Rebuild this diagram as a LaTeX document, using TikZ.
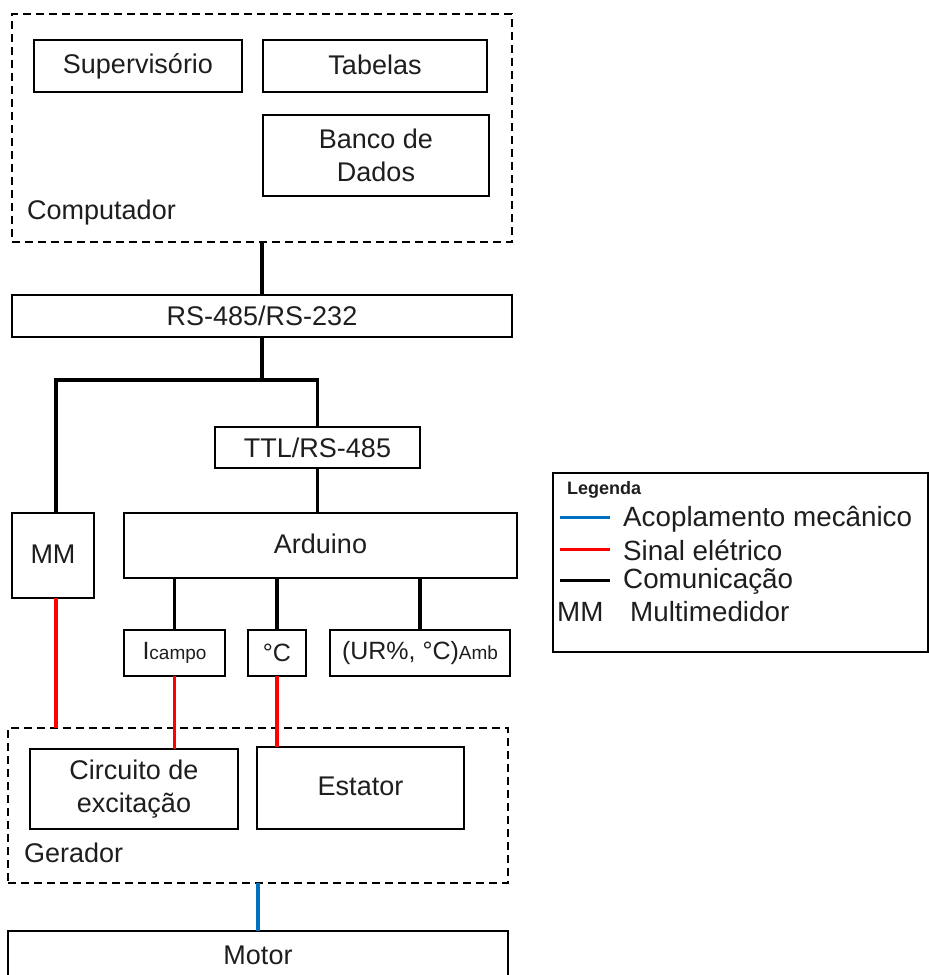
\documentclass[tikz,border=0pt]{standalone}
\usepackage{fontspec}
\setmainfont{Liberation Sans}
\definecolor{txt}{HTML}{1E1E1E}
\definecolor{mblue}{HTML}{0070C0}
\definecolor{ered}{HTML}{FF0000}
\begin{document}
\begin{tikzpicture}[x=1pt,y=-1pt,
  box/.style={draw=black, line width=1.6pt, rectangle, inner sep=0pt, outer sep=0pt,
    text=txt, align=center, font=\fontsize{27}{33}\selectfont},
  dbox/.style={box, dash pattern=on 8pt off 5pt},
  sbox/.style={box, font=\fontsize{25}{30}\selectfont},
  lbl/.style={text=txt, font=\fontsize{27}{33}\selectfont, inner sep=0pt},
  leglbl/.style={lbl, font=\fontsize{27.8}{33}\selectfont},
  comm/.style={draw=black, line width=3.4pt},
  elec/.style={draw=ered, line width=3.4pt},
  mech/.style={draw=mblue, line width=3.4pt}]
\clip (0,0) rectangle (929,975);
\fill[white] (0,0) rectangle (929,975);
\newcommand\smallsub[1]{{\fontsize{19}{22}\selectfont #1}}
% Computador
\node[dbox, minimum width=500pt, minimum height=228pt] (comp) at (262,128) {};
\node[box, minimum width=208pt, minimum height=52pt] (sup) at (138,66) {\raisebox{2pt}{Supervisório}};
\node[box, minimum width=224pt, minimum height=52pt] (tab) at (375,66) {\raisebox{3pt}{Tabelas}};
\node[box, minimum width=226pt, minimum height=81pt] (bd) at (376,155.5) {Banco de\\Dados};
\node[lbl, anchor=west] (complbl) at (27,213) {Computador};
% converters
\node[box, minimum width=500pt, minimum height=42pt] (rs) at (262,316) {RS-485/RS-232};
\node[box, minimum width=205pt, minimum height=41pt] (ttl) at (317.5,447.5) {TTL/RS-485};
\node[box, minimum width=82pt, minimum height=85pt] (mm) at (53,555.5) {\raisebox{3pt}{MM}};
\node[box, minimum width=393pt, minimum height=65pt] (ard) at (320.5,545.5) {\raisebox{3pt}{Arduino}};
% sensors
\node[sbox, minimum width=101pt, minimum height=46pt] (ic) at (174.5,653) {I\smallsub{campo}};
\node[sbox, minimum width=58pt, minimum height=46pt] (deg) at (277,653) {°C};
\node[sbox, minimum width=180pt, minimum height=46pt] (amb) at (420,653) {(UR\%, °C)\smallsub{Amb}};
% Gerador
\node[dbox, minimum width=500pt, minimum height=155pt] (ger) at (258,805.5) {};
\node[box, minimum width=208pt, minimum height=80pt] (circ) at (134,789) {Circuito de\\excitação};
\node[box, minimum width=207pt, minimum height=82pt] (est) at (360.5,788) {\raisebox{3pt}{Estator}};
\node[lbl, anchor=west] (gerlbl) at (24,853) {Gerador};
% Motor
\node[box, minimum width=500pt, minimum height=54pt, text depth=0pt] (mot) at (258,958) {};
\node[lbl] (motlbl) at (258,955) {Motor};
% connectors
\coordinate (j) at (rs.south |- 0,380);
\coordinate (mmtop) at ([xshift=3pt]mm.north);
\coordinate (mmbot) at ([xshift=3pt]mm.south);
\draw[comm] (comp.south) -- (rs.north);
\draw[comm] (rs.south) -- (j);
\draw[comm] (mmtop) |- (j) -| (ttl.north);
\draw[comm] (ttl.south) -- (ttl.south |- ard.north);
\draw[comm] (ic.north |- ard.south) -- (ic.north);
\draw[comm] (deg.north |- ard.south) -- (deg.north);
\draw[comm] (amb.north |- ard.south) -- (amb.north);
\draw[elec] (mmbot) -- (mmbot |- ger.north);
\draw[elec] (ic.south) -- (ic.south |- circ.north);
\draw[elec] (deg.south) -- (deg.south |- est.north);
\draw[mech] (ger.south) -- (mot.north);
% legend
\node[box, minimum width=375pt, minimum height=179pt] (leg) at (740.5,562.5) {};
\node[lbl, anchor=west, font=\bfseries\fontsize{18}{22}\selectfont] (legt) at (567,490) {Legenda};
\coordinate (l1a) at (560,517); \coordinate (l1b) at (610,517);
\coordinate (l2a) at (560,549); \coordinate (l2b) at (610,549);
\coordinate (l3a) at (560,580); \coordinate (l3b) at (610,580);
\draw[mech, line width=3pt] (l1a) -- (l1b);
\draw[elec, line width=3pt] (l2a) -- (l2b);
\draw[comm, line width=3pt] (l3a) -- (l3b);
\node[leglbl, anchor=west] (t1) at (623,519) {Acoplamento mecânico};
\node[leglbl, anchor=west] (t2) at (623,550) {Sinal elétrico};
\node[leglbl, anchor=west] (t3) at (623,581) {Comunicação};
\node[leglbl, anchor=west] (t4a) at (557,612) {MM};
\node[leglbl, anchor=west] (t4b) at (630,612) {Multimedidor};
\end{tikzpicture}
\end{document}
